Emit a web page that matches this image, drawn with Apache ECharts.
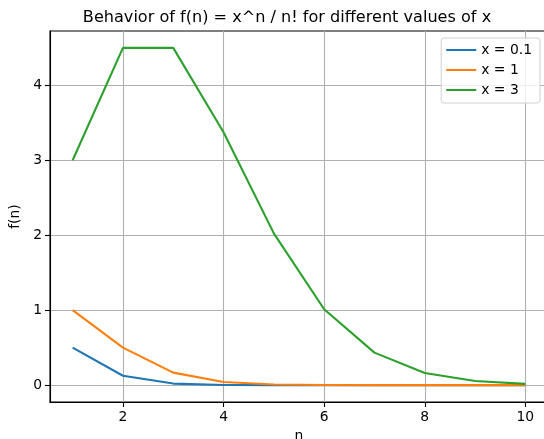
<!DOCTYPE html>
<html>
<head>
<meta charset="utf-8">
<script src="https://cdn.jsdelivr.net/npm/echarts@6/dist/echarts.min.js"></script>
<style>
  html, body { margin: 0; padding: 0; background: #fff; }
  #chart { width: 544px; height: 439px; }
</style>
</head>
<body>
<div id="chart"></div>
<script>
// n = 1..10
const nValues = [1, 2, 3, 4, 5, 6, 7, 8, 9, 10];

// f(n) for each x
const seriesNames = ['x = 0.1', 'x = 1', 'x = 3'];
const valuesX01 = [0.5, 0.125, 0.0208, 0.0026, 0.00026, 0.00002, 0.0000015, 0.0000001, 0.0, 0.0];
const valuesX1 = [1.0, 0.5, 0.1667, 0.0417, 0.0083, 0.0014, 0.0002, 0.000025, 0.0000028, 0.0000003];
const valuesX3 = [3.0, 4.5, 4.5, 3.375, 2.025, 1.0125, 0.4339, 0.1627, 0.0542, 0.0163];

// tick values
const xTicks = [2, 4, 6, 8, 10];
const yTicks = [0, 1, 2, 3, 4];

const colors = ['#1f77b4', '#ff7f0e', '#2ca02c'];
const font = 'DejaVu Sans';

const pairs = vals => nValues.map((n, i) => [n, vals[i]]);
const allValues = [valuesX01, valuesX1, valuesX3];

const chart = echarts.init(document.getElementById('chart'), null, { renderer: 'canvas' });

const gridLine = { show: true, lineStyle: { color: '#b0b0b0', width: 1.1 } };

chart.setOption({
  animation: false,
  backgroundColor: '#fff',
  textStyle: { fontFamily: font },
  title: {
    text: 'Behavior of f(n) = x^n / n! for different values of x',
    left: 282,
    textAlign: 'center',
    top: 5,
    textStyle: { fontFamily: font, fontSize: 16.1, fontWeight: 'normal', color: '#000' }
  },
  legend: {
    orient: 'vertical',
    right: 4,
    top: 38,
    padding: [5, 8, 6, 5],
    itemGap: 6,
    itemWidth: 30,
    itemHeight: 2,
    icon: 'rect',
    backgroundColor: 'rgba(255,255,255,0.8)',
    borderColor: '#d0d0d0',
    borderWidth: 1,
    borderRadius: 3,
    textStyle: { fontFamily: font, fontSize: 13.9, color: '#000', lineHeight: 14 },
    data: seriesNames
  },
  grid: {
    left: 50, top: 31, width: 498, height: 371,
    outerBoundsMode: 'none',
    containLabel: false,
    show: true, borderColor: '#000', borderWidth: 1.1, backgroundColor: '#fff'
  },
  xAxis: {
    type: 'value',
    min: 0.55, max: 10.45,
    name: 'n',
    nameLocation: 'middle',
    nameGap: 26,
    nameTextStyle: { fontFamily: font, fontSize: 13.9, color: '#000' },
    axisLine: { show: true, onZero: false, lineStyle: { color: '#000', width: 1.1 } },
    axisTick: { show: true, length: 5, lineStyle: { color: '#000', width: 1.1 }, customValues: xTicks },
    axisLabel: { fontFamily: font, fontSize: 13.9, color: '#000', margin: 8, customValues: xTicks },
    splitLine: Object.assign({ customValues: xTicks }, gridLine)
  },
  yAxis: {
    type: 'value',
    min: -0.225, max: 4.725,
    name: 'f(n)',
    nameLocation: 'middle',
    nameGap: 25,
    nameTextStyle: { fontFamily: font, fontSize: 13.9, color: '#000' },
    axisLine: { show: true, onZero: false, lineStyle: { color: '#000', width: 1.1 } },
    axisTick: { show: true, length: 5, lineStyle: { color: '#000', width: 1.1 }, customValues: yTicks },
    axisLabel: { fontFamily: font, fontSize: 13.9, color: '#000', margin: 8, customValues: yTicks },
    splitLine: Object.assign({ customValues: yTicks }, gridLine)
  },
  series: seriesNames.map((name, i) => ({
    name: name,
    type: 'line',
    data: pairs(allValues[i]),
    showSymbol: false,
    symbol: 'none',
    color: colors[i],
    lineStyle: { color: colors[i], width: 2.1 },
    z: 3 + i
  }))
});
</script>
</body>
</html>
